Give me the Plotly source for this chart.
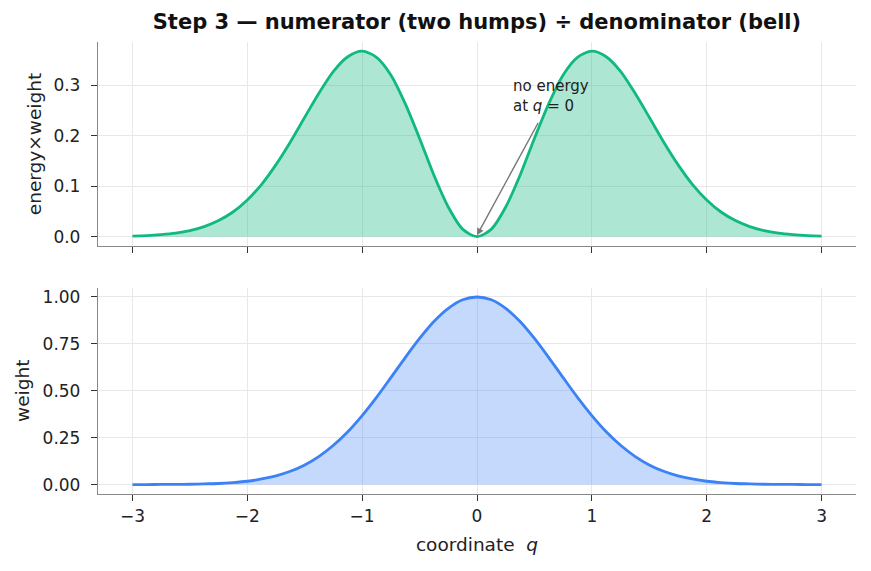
import plotly.graph_objects as go
from plotly.subplots import make_subplots

q_half = [0.0, 0.125, 0.25, 0.375, 0.5, 0.625, 0.75, 0.875, 1.0, 1.125, 1.25, 1.375, 1.5,
          1.625, 1.75, 1.875, 2.0, 2.125, 2.25, 2.375, 2.5, 2.625, 2.75, 2.875, 3.0]
# numerator (energy x weight), q >= 0 (curve is mirror-symmetric)
numerator_half = [0.000, 0.015, 0.059, 0.122, 0.195, 0.264, 0.321, 0.356, 0.368, 0.357, 0.328, 0.285, 0.237,
                  0.188, 0.143, 0.104, 0.073, 0.049, 0.032, 0.020, 0.012, 0.007, 0.004, 0.002, 0.001]
# denominator (weight), q >= 0
denominator_half = [1.000, 0.985, 0.939, 0.869, 0.779, 0.677, 0.570, 0.465, 0.368, 0.282, 0.210, 0.151, 0.105,
                    0.071, 0.047, 0.030, 0.018, 0.011, 0.006, 0.004, 0.002, 0.001, 0.001, 0.000, 0.000]

q_values = [-v for v in q_half[:0:-1]] + q_half
numerator = numerator_half[:0:-1] + numerator_half
denominator = denominator_half[:0:-1] + denominator_half

x_ticks = [-3, -2, -1, 0, 1, 2, 3]
x_ticktext = ["\u22123", "\u22122", "\u22121", "0", "1", "2", "3"]
top_ticks = [0.0, 0.1, 0.2, 0.3]
top_ticktext = ["0.0", "0.1", "0.2", "0.3"]
bottom_ticks = [0.0, 0.25, 0.5, 0.75, 1.0]
bottom_ticktext = ["0.00", "0.25", "0.50", "0.75", "1.00"]

GREEN = "#10b981"
BLUE = "#3b82f6"
FONT = "DejaVu Sans"
TXT = "#222222"

fig = make_subplots(rows=2, cols=1)

fig.add_trace(go.Scatter(x=q_values, y=numerator, mode="lines",
                         line=dict(color=GREEN, width=2.8, shape="spline", smoothing=0.8),
                         fill="tozeroy", fillcolor="rgba(16,185,129,0.34)", showlegend=False), row=1, col=1)
fig.add_trace(go.Scatter(x=q_values, y=denominator, mode="lines",
                         line=dict(color=BLUE, width=2.8, shape="spline", smoothing=0.8),
                         fill="tozeroy", fillcolor="rgba(59,130,246,0.30)", showlegend=False), row=2, col=1)

axis_common = dict(showline=True, linecolor="#888888", linewidth=1.3, ticks="outside", ticklen=6,
                   tickwidth=1.2, tickcolor="#333333", showgrid=True, gridcolor="#e8e8e8", gridwidth=0.8,
                   zeroline=False, tickfont=dict(family=FONT, size=17, color=TXT))

fig.update_xaxes(**axis_common, range=[-3.3, 3.3], tickvals=x_ticks)
fig.update_xaxes(showticklabels=False, row=1, col=1)
fig.update_xaxes(ticktext=x_ticktext, row=2, col=1,
                 title=dict(text="coordinate  <i>q</i>", font=dict(family=FONT, size=18.5, color=TXT),
                            standoff=13))
fig.update_yaxes(**axis_common, ticklabelstandoff=7)
fig.update_yaxes(range=[-0.0184, 0.3863], tickvals=top_ticks, ticktext=top_ticktext,
                 title=dict(text="energy\u00d7weight", font=dict(family=FONT, size=18.5, color=TXT),
                            standoff=6), row=1, col=1)
fig.update_yaxes(range=[-0.05, 1.05], tickvals=bottom_ticks, ticktext=bottom_ticktext,
                 title=dict(text="weight", font=dict(family=FONT, size=18.5, color=TXT),
                            standoff=8), row=2, col=1)

fig.update_layout(
    width=871, height=571,
    margin=dict(l=98, r=15, t=42, b=77),
    plot_bgcolor="white", paper_bgcolor="white",
    xaxis=dict(domain=[0, 1]), xaxis2=dict(domain=[0, 1]),
    yaxis=dict(domain=[0.5487, 1.0]), yaxis2=dict(domain=[0.0, 0.4566]),
    title=dict(text="<b>Step 3 \u2014 numerator (two humps) \u00f7 denominator (bell)</b>",
               x=0.5476, xanchor="center", y=0.962, yanchor="middle",
               font=dict(family=FONT, size=21, color="#111111")),
)

fig.add_annotation(x=0.3, y=0.238, xref="x", yref="y", text="no energy<br>at <i>q</i> = 0",
                   showarrow=False, xanchor="left", yanchor="bottom", align="left",
                   font=dict(family=FONT, size=15, color=TXT))
fig.add_annotation(x=0.0, y=0.003, xref="x", yref="y", ax=0.54, ay=0.229, axref="x", ayref="y",
                   text="", showarrow=True, arrowhead=2, arrowsize=1, arrowwidth=1.4,
                   arrowcolor="#777777")

fig.write_html("out.html")
